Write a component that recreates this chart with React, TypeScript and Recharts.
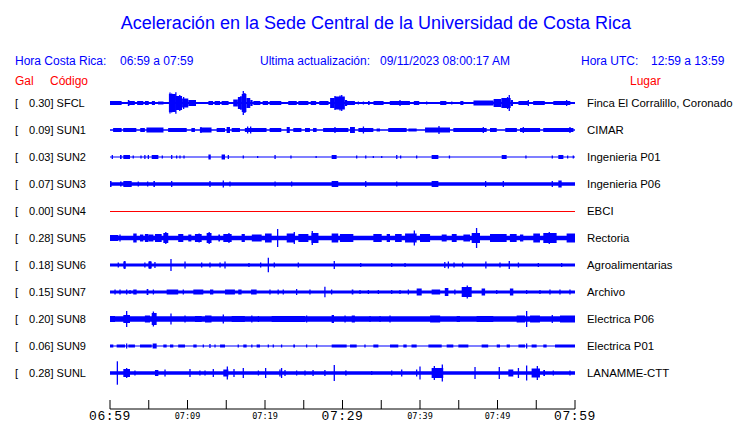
import React from "react";
import { ComposedChart, XAxis, YAxis, ReferenceArea, ReferenceLine, Scatter, ErrorBar } from "recharts";

// station codes, peak acceleration (Gal) and place, top to bottom
const codes = ["SFCL", "SUN1", "SUN2", "SUN3", "SUN4", "SUN5", "SUN6", "SUN7", "SUN8", "SUN9", "SUNL"];
const peaks = ["0.30", "0.09", "0.03", "0.07", "0.00", "0.28", "0.18", "0.15", "0.20", "0.06", "0.28"];
const places = [
    "Finca El Corralillo, Coronado", "CIMAR", "Ingenieria P01", "Ingenieria P06", "EBCI", "Rectoria",
    "Agroalimentarias", "Archivo", "Electrica P06", "Electrica P01", "LANAMME-CTT",
];

// time axis, minutes after 06:59
const tickMinutes = [0, 5, 10, 15, 20, 25, 30, 35, 40, 45, 50, 55, 60];
const tickLabels = ["06:59", "", "07:09", "", "07:19", "", "07:29", "", "07:39", "", "07:49", "", "07:59"];
const majorLabels = ["06:59", "07:29", "07:59"];

// resting noise level of each trace (half amplitude)
const baseAmp = [1, 0.8, 0.5, 1.7, 0, 2.3, 1.5, 1.5, 2.7, 0.5, 1.8];

// noisy stretches: [from min, to min, half amplitude]
const sfclBlocks = [
    [0, 1.5, 2], [2.3, 2.5, 3], [2.4, 3.2, 2], [3.5, 4.3, 2], [4.5, 5, 2], [5.4, 5.8, 2], [6.2, 6.9, 1.5],
    [7.6, 8.5, 9], [8.5, 9.3, 7], [9.3, 10.1, 4.5], [10.1, 11.1, 3],
    [12.7, 13.3, 2], [13.5, 14.2, 2], [14.4, 15.3, 2],
    [15.9, 16.5, 3.5], [16.5, 17, 6], [17, 17.6, 9], [17.6, 18.1, 5], [18.1, 18.4, 3],
    [18.5, 19.4, 2], [19.7, 20.4, 2], [20.6, 22.1, 2], [23, 24.1, 2], [24.3, 25.6, 2], [25.9, 26.6, 2], [27, 28.2, 2],
    [28.4, 29, 5], [29, 30.3, 6.5], [30.3, 30.6, 3], [30.5, 31.6, 2], [33.3, 33.5, 2], [34, 35.3, 2], [36.1, 38.7, 2],
    [39.2, 39.9, 2], [42.6, 43.4, 2], [45.2, 45.6, 2], [46.9, 49.5, 2.5],
    [49.5, 50.5, 4], [50.5, 51.7, 5], [51.7, 52, 3], [52.7, 54, 2], [54.6, 56.1, 2], [57.2, 59.4, 2],
];
const sun1Blocks = [
    [0.4, 1.5, 2], [1.7, 3.4, 2], [3.9, 4.5, 2], [4.7, 6.9, 2.5], [7.5, 9.9, 2], [10.5, 10.96, 2], [11.6, 13.1, 2.5],
    [13.76, 14.84, 2], [15.05, 15.48, 3], [15.7, 16.77, 2], [17.4, 20.2, 2], [20.6, 22.1, 2], [22.8, 23.2, 3],
    [23.65, 24.7, 2], [25.16, 25.8, 2], [26.2, 26.66, 2], [27.5, 30.76, 2], [30.97, 31.6, 3], [32.05, 33.98, 2],
    [34.4, 34.84, 1.5], [35.9, 38.28, 2], [38.5, 39.57, 1.5], [40.65, 43.87, 2.5], [44.3, 48.6, 2], [49.03, 49.9, 2],
    [51, 52.5, 2], [52.9, 55.5, 2], [55.9, 59.8, 2],
];
const sun2Blocks = [
    [1.29, 1.5, 2], [1.72, 2.58, 2], [5.38, 6.24, 2], [12.7, 13, 2.5], [14.4, 14.84, 2.5], [28.6, 29.24, 2],
    [41.5, 42.37, 2], [50.54, 51.18, 2], [57.85, 58.5, 2],
];
const sun3Blocks = [
    [0, 0.2, 3], [1.29, 1.5, 2.5], [1.72, 2.8, 3], [5.6, 5.8, 3], [28.6, 29.45, 3], [41.5, 42.37, 3], [57.85, 58.28, 3.5],
];
const sun4Blocks: number[][] = [];
const sun5Blocks = [
    [0, 1.07, 3], [3, 3.44, 4.5], [3.87, 4.3, 3.5], [4.5, 4.95, 4], [4.95, 5.6, 3.5], [5.8, 6.67, 4], [6.88, 7.52, 5],
    [8.8, 9.46, 4], [10.1, 10.5, 3.5], [10.96, 11.83, 4], [12.47, 13.1, 5], [13.98, 14.2, 3.5], [14.62, 15.7, 4],
    [16.98, 17.4, 4], [18.3, 19.57, 3.5], [20, 20.86, 4.5], [22.8, 23.87, 4.5], [24.3, 25.6, 4], [26, 26.9, 5],
    [28.6, 29.45, 4.5], [29.67, 31.4, 4], [33.98, 35.06, 4], [35.7, 36.13, 4], [36.78, 37.64, 4], [38.07, 39.57, 4.5],
    [40, 41.3, 4], [42.8, 43.44, 3.5], [44.1, 44.73, 4], [45.6, 46.45, 3.5], [46.67, 47.74, 5], [49.03, 51.18, 4],
    [51.6, 52.47, 4], [52.9, 53.33, 3.5], [54.62, 55.48, 4.5], [55.91, 57.63, 5], [58.92, 60, 4.5],
];
const sun6Blocks = [[1.72, 2.02, 3.5], [4.95, 5.38, 3.5]];
const sun7Blocks = [
    [3, 3.44, 2.5], [4.73, 4.95, 3], [7.31, 8.8, 2.5], [10.75, 12.04, 2.5], [12.9, 13.33, 2.5], [14.84, 16.12, 2.5],
    [16.55, 16.98, 2.5], [18.2, 18.92, 2.5], [31.19, 31.4, 2.5], [39.57, 40.22, 3.5], [41.5, 42.6, 2.5],
    [43.2, 43.66, 4], [45.38, 46.67, 5], [47.95, 48.4, 3.5], [51.6, 52.04, 3.5],
];
const sun8Blocks = [
    [0, 0.65, 3], [1.72, 2.58, 4], [4.5, 5.16, 3.5], [5.38, 6.02, 6], [10.96, 11.83, 3], [12.26, 13.1, 3.5],
    [15.7, 17.4, 3], [20.86, 25.16, 3], [28.6, 28.9, 4], [31.19, 31.6, 3.5], [41.3, 42.6, 3.5], [44.73, 45.16, 3],
    [47.3, 49.46, 3], [52.47, 53.55, 3.5], [54.2, 55.48, 3.5], [58.06, 60, 3.5],
];
const sun9Blocks = [
    [0, 0.43, 1.5], [0.86, 1.94, 1.5], [2.37, 3.22, 1.5], [3.87, 5.38, 1.5], [5.5, 6.02, 2.5], [6.88, 7.31, 1.5],
    [7.74, 8.17, 1.5], [8.8, 9.68, 1.5], [10.75, 11.18, 1.5], [14.2, 14.84, 1.5], [17.2, 17.63, 1.5],
    [18.92, 19.35, 1.5], [23.65, 23.87, 1.5], [28.6, 30.54, 1.5], [30.97, 31.83, 1.5], [33.98, 34.63, 1.5],
    [36.13, 37.2, 1.5], [37.85, 38.28, 1.5], [38.9, 39.57, 1.5], [41.08, 42.8, 1.5], [43.44, 44.3, 1.5],
    [44.95, 46.24, 1.5], [47.95, 48.8, 1.5], [49.9, 50.32, 1.5], [51.18, 51.6, 1.5], [52.7, 53.55, 1.5],
    [54.4, 55.05, 1.5], [55.91, 56.34, 1.5], [57.42, 60, 1.5],
];
const sunlBlocks = [
    [1.72, 2.58, 4], [5.8, 6.24, 3], [14.62, 15.27, 3.5], [30.33, 30.54, 2.5], [41.5, 43, 5], [51.4, 52.04, 3.5],
    [54.4, 55.48, 4.5], [55.91, 56.13, 3],
];

// single peaks: [min, half amplitude]
const sfclSpikes = [
    [7.74, 10.5], [7.96, 9.5], [8.5, 10.7], [9, 8], [9.5, 6], [16.9, 7], [17.2, 12], [17.4, 10],
    [29.03, 7], [29.68, 7.5], [29.9, 8], [32.05, 1.5], [32.7, 1.5], [37.42, 3], [40.86, 1.5], [44.1, 1.5],
    [49.9, 4], [51.3, 6], [51.52, 8], [53.98, 3], [58.92, 3],
];
const sun1Spikes = [
    [11.74, 3], [15.35, 3], [17.76, 3.5], [18.15, 3.5], [29.03, 3], [32.7, 3.5], [42.45, 4], [48.17, 3], [53.33, 3], [59.35, 3],
];
const sun2Spikes = [
    [0.3, 2], [3, 1.5], [4, 1.5], [4.5, 2], [4.95, 2], [6.75, 1.5], [7.96, 2], [8.6, 1.5], [9.03, 1.5], [9.55, 1.5],
    [15.27, 2], [17.2, 1.5], [19.05, 1], [21.3, 2], [23.35, 1.5], [26.6, 1], [31.83, 1.5], [33, 1.5], [33.98, 1],
    [35.06, 1], [37, 2], [37.5, 1.5], [39.57, 1.5], [43.8, 1.5], [53.67, 1.5], [57.07, 1.5], [59.05, 1.5], [59.78, 1.5],
];
const sun3Spikes = [
    [3.65, 2.5], [4.86, 2.5], [7.96, 3], [12.9, 3], [14.62, 3.5], [15.48, 2.5], [21.3, 2.5], [23.44, 2.5], [33, 3],
    [37, 2.5], [48.47, 3], [50.75, 3], [57.07, 3],
];
const sun4Spikes: number[][] = [];
const sun5Spikes = [
    [1.29, 3.5], [7.2, 6], [11.5, 4.5], [12.8, 6], [15.35, 5], [21.63, 9], [23.78, 6], [26.1, 7], [39.27, 7.5],
    [47.3, 10], [56.68, 6],
];
const sun6Spikes = [
    [1.07, 2.5], [1.9, 4], [4.5, 2.5], [5.16, 4], [5.8, 3], [7.87, 6], [9.68, 3.5], [11.83, 2.5], [12.9, 2.5],
    [14.2, 2.5], [14.84, 3.5], [17.93, 2], [19.44, 2.5], [20.43, 7.3], [21.2, 2.5], [24.3, 2.5], [28.94, 4],
    [32.35, 2], [36.35, 2], [38.07, 2], [43.2, 3], [43.66, 3.5], [44.39, 2.5], [45.5, 2.5], [48.5, 3.5], [50.32, 2.5],
    [51.52, 4], [52.7, 2.5], [55.27, 2], [58.28, 2],
];
const sun7Spikes = [
    [0.65, 2.5], [1.29, 2.5], [2.15, 2.5], [2.58, 2], [5.6, 2.5], [9.46, 2.5], [20.64, 2.5], [21.7, 2.5], [22.36, 2.5],
    [24.08, 3], [25.8, 2.5], [27.73, 5.3], [28.6, 2.5], [32.26, 2], [33.34, 2], [34.63, 2], [36.35, 2], [37.42, 2],
    [38.5, 2.5], [44.5, 2.5], [46.1, 6.5], [49.9, 2], [53.76, 2], [55.48, 2], [56.77, 2.5], [58.06, 2.5], [59.35, 2.5],
];
const sun8Spikes = [
    [2.15, 8], [5.6, 7.5], [7.87, 5.5], [9.68, 3.5], [14.62, 4.5], [18.3, 3.5], [19.15, 3], [25.37, 3.5], [30.33, 3.5],
    [33.55, 3], [34.84, 3], [36.13, 3.5], [53.76, 8], [57.07, 4],
];
const sun9Spikes = [
    [2.15, 2.5], [12.04, 1.5], [12.9, 2], [13.55, 1.5], [16.55, 1.5], [18.3, 1.5], [20.43, 1.5], [21.07, 1.5],
    [22.14, 1.5], [25.37, 1.5], [26.66, 1.5], [32.9, 1.5], [53.76, 2.5],
];
const sunlSpikes = [
    [0.95, 11.7], [2.15, 5], [3.22, 2.5], [7.1, 3.5], [10.32, 4], [11.6, 2.5], [12.26, 2.5], [13.33, 4], [15.14, 6.5],
    [16, 4], [17.2, 5], [19.15, 2.5], [20.08, 5], [21.93, 3.5], [22.14, 5], [22.58, 3], [24.08, 2.5], [25.16, 2.5],
    [26.2, 3], [27.73, 3], [28.94, 8], [32.26, 1], [33.77, 2], [36.35, 2.5], [37.64, 3.5], [39.57, 3.5], [40, 6.5],
    [41.85, 7], [42.88, 8.5], [47.1, 6], [50.23, 6], [52.7, 5], [53.76, 7.5], [55.14, 7], [57.2, 2.5], [59.35, 2.5],
];

const blocks = [sfclBlocks, sun1Blocks, sun2Blocks, sun3Blocks, sun4Blocks, sun5Blocks, sun6Blocks, sun7Blocks, sun8Blocks, sun9Blocks, sunlBlocks];
const spikes = [sfclSpikes, sun1Spikes, sun2Spikes, sun3Spikes, sun4Spikes, sun5Spikes, sun6Spikes, sun7Spikes, sun8Spikes, sun9Spikes, sunlSpikes];

const BLUE = "#0000ff";
const RED = "#ff0000";
const ROW = 27;
const FONT = "'Liberation Sans', Arial, Helvetica, sans-serif";
const MONO = "'Liberation Mono', 'DejaVu Sans Mono', monospace";

const rowValue = (i: number) => -ROW * i;
const rowPixel = (i: number) => 103 + ROW * i;

const spikeData = spikes.flatMap((list, i) => list.map(([t, a]) => ({ t, y: rowValue(i), err: a })));

const TimeTick = (props: any) => {
    const { x, y, payload } = props;
    const label = tickLabels[payload.index] ?? "";
    const major = majorLabels.includes(label);
    return (
        <g>
            <line x1={x} x2={x} y1={y - 9} y2={y} stroke="#000" strokeWidth={1} />
            {label && (
                <text
                    x={x}
                    y={major ? y + 10.5 : y + 9.5}
                    textAnchor="middle"
                    fontFamily={major ? MONO : "'DejaVu Sans Mono', monospace"}
                    fontSize={major ? 13 : 8.5}
                    letterSpacing={major ? 0.6 : 0}
                    fill="#000"
                >
                    {label}
                </text>
            )}
        </g>
    );
};

export default function App() {
    return (
        <div style={{ position: "absolute", left: 0, top: 0, width: 740, height: 423, background: "#fff" }}>
            <ComposedChart
                width={740}
                height={423}
                data={spikeData}
                margin={{ top: 76, right: 165, bottom: 0, left: 110 }}
            >
                <XAxis
                    type="number"
                    dataKey="t"
                    domain={[0, 60]}
                    ticks={tickMinutes}
                    interval={0}
                    height={14}
                    tickSize={0}
                    tickMargin={0}
                    tickLine={false}
                    axisLine={{ stroke: "#000", strokeWidth: 1 }}
                    tick={<TimeTick />}
                    allowDataOverflow
                />
                <YAxis type="number" dataKey="y" domain={[-306, 27]} hide allowDataOverflow />
                {baseAmp.map((b, i) =>
                    i === 4 ? (
                        <ReferenceLine
                            key={`base${i}`}
                            y={rowValue(i)}
                            stroke={RED}
                            strokeWidth={1}
                            shapeRendering="crispEdges"
                        />
                    ) : (
                        <ReferenceArea
                            key={`base${i}`}
                            x1={0}
                            x2={60}
                            y1={rowValue(i) - b}
                            y2={rowValue(i) + b}
                            fill={BLUE}
                            fillOpacity={1}
                            stroke="none"
                            ifOverflow="visible"
                        />
                    )
                )}
                {blocks.flatMap((list, i) =>
                    list.map(([t0, t1, a], k) => (
                        <ReferenceArea
                            key={`blk${i}-${k}`}
                            x1={t0}
                            x2={t1}
                            y1={rowValue(i) - a}
                            y2={rowValue(i) + a}
                            fill={BLUE}
                            fillOpacity={1}
                            stroke="none"
                            ifOverflow="visible"
                        />
                    ))
                )}
                <Scatter dataKey="y" isAnimationActive={false} shape={() => <g />}>
                    <ErrorBar dataKey="err" direction="y" width={0} stroke={BLUE} strokeWidth={1.3} />
                </Scatter>
            </ComposedChart>
            <svg width={740} height={423} style={{ position: "absolute", left: 0, top: 0, pointerEvents: "none" }}>
                <text x={376} y={28.5} textAnchor="middle" fontFamily={FONT} fontSize={18} fill={BLUE}>
                    Aceleración en la Sede Central de la Universidad de Costa Rica
                </text>
                <g fontFamily={FONT} fontSize={12} fill={BLUE}>
                    <text x={15} y={65}>Hora Costa Rica:</text>
                    <text x={120} y={65}>06:59 a 07:59</text>
                    <text x={260} y={65}>Ultima actualización:</text>
                    <text x={380} y={65}>09/11/2023 08:00:17 AM</text>
                    <text x={581} y={65}>Hora UTC:</text>
                    <text x={651} y={65}>12:59 a 13:59</text>
                </g>
                <g fontFamily={FONT} fontSize={12} fill={RED}>
                    <text x={15} y={85}>Gal</text>
                    <text x={50} y={85}>Código</text>
                    <text x={630} y={85}>Lugar</text>
                </g>
                <g fontFamily={FONT} fill="#000">
                    {codes.map((c, i) => (
                        <g key={c}>
                            <text x={15} y={rowPixel(i) + 4} fontSize={11}>[</text>
                            <text x={50.5} y={rowPixel(i) + 4} fontSize={11} textAnchor="end">{peaks[i]}</text>
                            <text x={50.5} y={rowPixel(i) + 4} fontSize={11}>{`] ${c}`}</text>
                            <text x={587} y={rowPixel(i) + 4} fontSize={11.4}>{places[i]}</text>
                        </g>
                    ))}
                </g>
            </svg>
        </div>
    );
}
